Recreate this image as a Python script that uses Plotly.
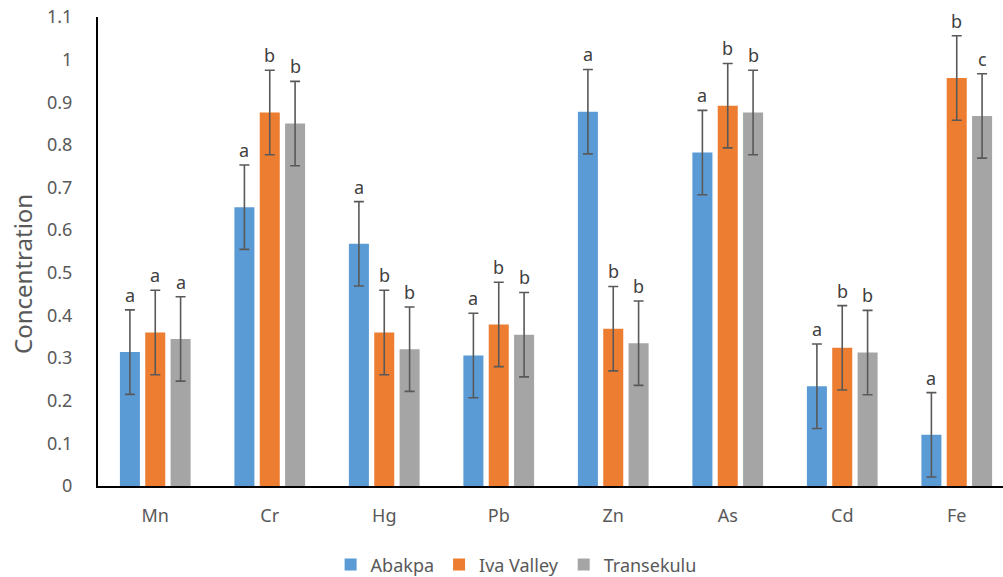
import plotly.graph_objects as go

categories = ["Mn", "Cr", "Hg", "Pb", "Zn", "As", "Cd", "Fe"]
series_names = ["Abakpa", "Iva Valley", "Transekulu"]
abakpa = [0.314, 0.654, 0.568, 0.306, 0.878, 0.782, 0.234, 0.120]
iva_valley = [0.360, 0.876, 0.360, 0.379, 0.369, 0.892, 0.324, 0.957]
transekulu = [0.345, 0.850, 0.321, 0.355, 0.335, 0.876, 0.313, 0.868]
errors = [0.099, 0.099, 0.099]
letters_abakpa = ["a", "a", "a", "a", "a", "a", "a", "a"]
letters_iva = ["a", "b", "b", "b", "b", "b", "b", "b"]
letters_trans = ["a", "b", "b", "b", "b", "b", "b", "c"]
colors = ["#5B9BD5", "#ED7D31", "#A5A5A5"]
y_title = "Concentration"

series = [abakpa, iva_valley, transekulu]
letters = [letters_abakpa, letters_iva, letters_trans]

bargap = 0.336
bargroupgap = 0.21
font = "Noto Sans"
txt = "#595959"

fig = go.Figure()
for name, vals, col, err in zip(series_names, series, colors, errors):
    fig.add_trace(go.Bar(
        name=name, x=categories, y=vals,
        marker=dict(color=col, line=dict(width=0)),
        error_y=dict(type="constant", value=err, color="#595959", thickness=1.6, width=5),
    ))

slot = (1 - bargap) / len(series)
annotations = []
for j, (vals, lets, err) in enumerate(zip(series, letters, errors)):
    for i, (v, t) in enumerate(zip(vals, lets)):
        annotations.append(dict(
            x=i + (j - 1) * slot, y=v + err, xref="x", yref="y",
            text=t, showarrow=False, yanchor="bottom", yshift=1,
            font=dict(family=font, size=18, color="#404040"),
        ))

annotations.append(dict(
    x=-0.084, y=0.452, xref="paper", yref="paper", text=y_title,
    textangle=-90, showarrow=False, xanchor="center", yanchor="middle",
    font=dict(family=font, size=24, color=txt),
))

fig.update_layout(
    width=1003, height=577,
    margin=dict(l=98, r=0, t=17, b=91, autoexpand=False),
    plot_bgcolor="white", paper_bgcolor="white",
    barmode="group", bargap=bargap, bargroupgap=bargroupgap,
    annotations=annotations,
    showlegend=True,
    legend=dict(orientation="h", xref="paper", yref="paper",
                x=0.462, xanchor="center", y=-0.168, yanchor="middle",
                font=dict(family=font, size=18, color=txt),
                itemwidth=30, traceorder="normal"),
    xaxis=dict(range=[-0.5, 7.404], showline=True, linecolor="black", linewidth=2,
               ticks="", tickfont=dict(family=font, size=18, color=txt),
               ticklabelstandoff=12, showgrid=False, automargin=False),
    yaxis=dict(range=[0, 1.1], dtick=0.1, tick0=0, showline=True, linecolor="black", linewidth=2,
               ticks="", showgrid=False, zeroline=False, automargin=False,
               tickfont=dict(family=font, size=18, color=txt),
               ticklabelstandoff=20),
    font=dict(family=font),
)

fig.write_html("out.html", config={"displayModeBar": False},
               post_script="document.body.style.margin='0';document.body.style.overflow='hidden';")
